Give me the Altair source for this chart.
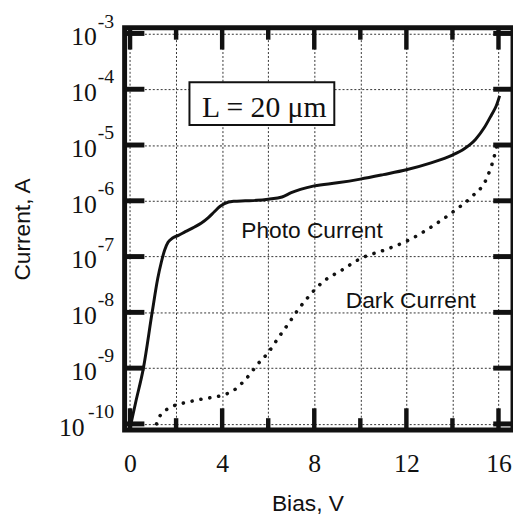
import altair as alt
import pandas as pd

# ---- data ----
bias_photo = [0.0, 0.25, 0.58, 0.96, 1.2, 1.36, 1.5, 1.65, 1.85, 2.1, 2.4, 2.8, 3.1, 3.4, 3.65,
              3.9, 4.1, 4.5, 5.0, 5.5, 6.0, 6.6, 7.0, 7.4, 8.0, 9.0, 10.0, 11.0, 12.0,
              13.0, 14.0, 14.5, 15.0, 15.4, 15.7, 15.9, 16.05]
current_photo = [8.5e-11, 2.5e-10, 1.0e-9, 1.0e-8, 4.0e-8, 8.0e-8, 1.3e-7, 1.8e-7, 2.15e-7,
                 2.4e-7, 2.8e-7, 3.4e-7, 4.0e-7, 5.0e-7, 6.3e-7, 7.9e-7, 8.9e-7, 9.8e-7, 1.0e-6,
                 1.02e-6, 1.07e-6, 1.17e-6, 1.4e-6, 1.6e-6, 1.85e-6, 2.1e-6, 2.45e-6,
                 2.95e-6, 3.6e-6, 4.7e-6, 6.6e-6, 8.5e-6, 1.26e-5, 2.1e-5, 3.5e-5, 5.0e-5, 7.6e-5]

bias_dark = [1.15, 1.26, 1.5, 1.79, 2.08, 2.4, 2.94, 3.5, 3.94, 4.5, 4.9, 5.22, 5.5, 6.0,
             6.44, 6.87, 7.3, 7.65, 8.0, 8.37, 9.22, 9.94, 11.2, 12.08, 13.08, 14.08,
             14.8, 15.5, 15.8, 16.0]
current_dark = [1.0e-10, 1.3e-10, 1.7e-10, 2.0e-10, 2.25e-10, 2.4e-10, 2.7e-10, 2.95e-10,
                3.2e-10, 4.0e-10, 5.6e-10, 7.9e-10, 1.12e-9, 1.9e-9, 3.5e-9, 6.2e-9,
                1.12e-8, 1.7e-8, 2.5e-8, 3.5e-8, 5.8e-8, 8.9e-8, 1.38e-7, 1.95e-7,
                3.4e-7, 6.6e-7, 1.15e-6, 2.6e-6, 5.9e-6, 1.32e-5]

x_grid = [0, 2, 4, 6, 8, 10, 12, 14, 16]
x_major = [0, 4, 8, 12, 16]
x_minor = [2, 6, 10, 14]
decades = [1e-3, 1e-4, 1e-5, 1e-6, 1e-7, 1e-8, 1e-9, 1e-10]
exponents = ["-3", "-4", "-5", "-6", "-7", "-8", "-9", "-10"]

# ---- layout ----
W, H = 393, 407
INK = "#111111"
xs = alt.Scale(domain=[-0.236, 16.63], nice=False, zero=False)
ys = alt.Scale(type="log", domain=[10 ** -10.11, 10 ** -2.899], nice=False)

photo_df = pd.DataFrame({"bias": bias_photo, "current": current_photo,
                         "i": range(len(bias_photo))})
dark_df = pd.DataFrame({"bias": bias_dark, "current": current_dark,
                        "i": range(len(bias_dark))})
major_df = pd.DataFrame({"bias": x_major})
minor_df = pd.DataFrame({"bias": x_minor})
dec_df = pd.DataFrame({"current": decades, "e": exponents})
one = pd.DataFrame({"a": [0]})

x_axis = alt.Axis(values=x_grid, grid=True, gridDash=[2, 2], gridColor="#333333",
                  gridWidth=1, ticks=False, tickSize=0, domain=False,
                  labelExpr="datum.value % 4 == 0 ? datum.label : ''",
                  labelFont="Liberation Serif", labelFontSize=26, labelColor=INK,
                  labelBaseline="alphabetic", labelPadding=42, labelFlush=False,
                  labelOverlap=False,
                  title="Bias, V", titleFont="Liberation Sans", titleFontSize=23,
                  titleFontWeight="normal", titleColor=INK, titleX=185, titleY=81,
                  titleBaseline="alphabetic", titleAlign="center")
y_axis = alt.Axis(values=decades, grid=True, gridDash=[2, 2], gridColor="#333333",
                  gridWidth=1, ticks=False, tickSize=0, domain=False, labels=False,
                  title="Current, A", titleFont="Liberation Sans", titleFontSize=23,
                  titleFontWeight="normal", titleColor=INK, titleX=-96, titleY=203.5,
                  titleAngle=270, titleBaseline="alphabetic", titleAlign="center")

X = lambda f: alt.X(f, scale=xs, axis=x_axis)
Y = lambda f: alt.Y(f, scale=ys, axis=y_axis)

photo = alt.Chart(photo_df).mark_line(color=INK, strokeWidth=3, interpolate="monotone").encode(
    x=X("bias:Q"), y=Y("current:Q"), order="i:Q")
dark = alt.Chart(dark_df).mark_line(color=INK, strokeWidth=3.6, strokeDash=[0.1, 9],
                                    strokeCap="round", interpolate="monotone").encode(
    x=X("bias:Q"), y=Y("current:Q"), order="i:Q")

# inward ticks on all four sides
def xticks(df, y0, y1):
    return alt.Chart(df).mark_rule(color=INK, strokeWidth=4.5).encode(
        x=X("bias:Q"), y=alt.value(y0), y2=alt.value(y1))

def yticks(x0, x1):
    return alt.Chart(dec_df).mark_rule(color=INK, strokeWidth=5).encode(
        y=Y("current:Q"), x=alt.value(x0), x2=alt.value(x1))

ticks = [xticks(major_df, H, H - 22), xticks(minor_df, H, H - 12),
         xticks(major_df, 0, 22), xticks(minor_df, 0, 12),
         yticks(0, 20), yticks(W - 20, W)]

# y tick labels: "10" with raised exponent
exp_lbl = alt.Chart(dec_df).mark_text(align="right", baseline="alphabetic", dy=-6,
                                      font="Liberation Serif", fontSize=20, color=INK).encode(
    y=Y("current:Q"), x=alt.value(-10.5), text="e:N")
base_short = alt.Chart(dec_df).transform_filter("length(datum.e) <= 2").mark_text(
    align="right", baseline="alphabetic", dy=12, font="Liberation Serif",
    fontSize=26, color=INK).encode(y=Y("current:Q"), x=alt.value(-28), text=alt.value("10"))
base_long = alt.Chart(dec_df).transform_filter("length(datum.e) > 2").mark_text(
    align="right", baseline="alphabetic", dy=12, font="Liberation Serif",
    fontSize=26, color=INK).encode(y=Y("current:Q"), x=alt.value(-40.5), text=alt.value("10"))

# annotations
box = alt.Chart(one).mark_rect(fill="white", stroke=INK, strokeWidth=2).encode(
    x=alt.XDatum(2.58, scale=xs, axis=x_axis), x2=alt.X2Datum(8.87),
    y=alt.YDatum(10 ** -3.874, scale=ys, axis=y_axis), y2=alt.Y2Datum(10 ** -4.641))
box_txt = alt.Chart(one).mark_text(align="center", baseline="alphabetic",
                                   font="Liberation Serif", fontSize=30, color=INK,
                                   text="L = 20 \u03bcm").encode(
    x=alt.XDatum(5.83, scale=xs, axis=x_axis), y=alt.YDatum(10 ** -4.494, scale=ys, axis=y_axis))
photo_txt = alt.Chart(one).mark_text(align="left", baseline="alphabetic",
                                     font="Liberation Sans", fontSize=23, color=INK,
                                     text="Photo Current").encode(
    x=alt.XDatum(4.83, scale=xs, axis=x_axis), y=alt.YDatum(10 ** -6.661, scale=ys, axis=y_axis))
dark_txt = alt.Chart(one).mark_text(align="left", baseline="alphabetic",
                                    font="Liberation Sans", fontSize=23, color=INK,
                                    text="Dark Current").encode(
    x=alt.XDatum(9.37, scale=xs, axis=x_axis), y=alt.YDatum(10 ** -7.919, scale=ys, axis=y_axis))

chart = alt.layer(photo, dark, *ticks, exp_lbl, base_short, base_long,
                  box, box_txt, photo_txt, dark_txt).properties(
    width=W, height=H,
    autosize=alt.AutoSizeParams(type="none"),
    padding={"left": 118, "top": 17, "right": 0, "bottom": 92},
    background="white",
).configure_view(stroke=INK, strokeWidth=5)

chart.save("out.html", embed_options={"renderer": "svg", "actions": False})
